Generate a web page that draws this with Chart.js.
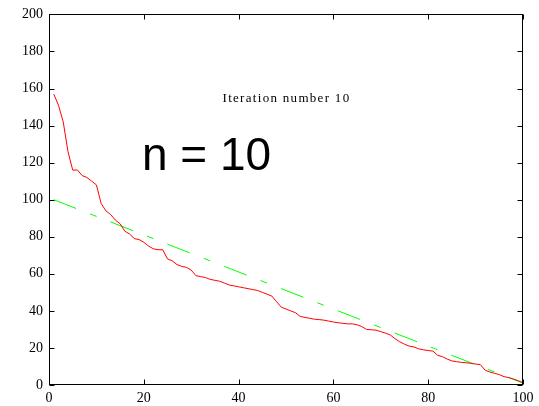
<!DOCTYPE html>
<html lang="en">
<head>
    <meta charset="UTF-8">
    <title>Iteration number 10</title>
    <script src="https://cdn.jsdelivr.net/npm/chart.js"></script>
    <style>
        body { margin: 0; background: #fff; }
    </style>
</head>
<body>
    <canvas id="myChart" width="539" height="406"></canvas>

    <script>
        // data
        const iterations = [
            1, 2, 3, 4, 5, 6, 7, 8, 9, 10,
            11, 12, 13, 14, 15, 16, 17, 18, 19, 20,
            21, 22, 23, 24, 25, 26, 27, 28, 29, 30,
            31, 32, 33, 34, 35, 36, 37, 38, 39, 40,
            41, 42, 43, 44, 45, 46, 47, 48, 49, 50,
            51, 52, 53, 54, 55, 56, 57, 58, 59, 60,
            61, 62, 63, 64, 65, 66, 67, 68, 69, 70,
            71, 72, 73, 74, 75, 76, 77, 78, 79, 80,
            81, 82, 83, 84, 85, 86, 87, 88, 89, 90,
            91, 92, 93, 94, 95, 96, 97, 98, 99, 100
        ];
        const redValues = [
            157, 151, 142, 126, 116, 116, 113, 112, 110, 108,
            98, 94, 92, 89, 87, 83, 81.5, 79, 78.5, 77,
            75, 73.5, 73, 73, 68, 67, 65, 64, 63.5, 62,
            59, 58.5, 58, 57, 56.5, 56, 55, 54, 53.5, 53,
            52.5, 52, 51.5, 51, 50, 49, 48, 45, 42, 41,
            40, 39, 37, 36.5, 36, 35.5, 35.3, 35, 34.5, 34,
            33.6, 33.3, 33, 33, 32.5, 31.5, 30, 29.8, 29.6, 28.8,
            28, 27, 25, 23.3, 22, 21, 20.5, 19.5, 19, 18.6,
            18.3, 16, 15.3, 14, 13, 12.6, 12.2, 12, 11.7, 11.3,
            11, 8, 7, 6.3, 5.6, 4.5, 4, 3.2, 2.3, 1.2
        ];
        const greenX = [1, 100];
        const greenValues = [100, 1];
        const xTicks = [0, 20, 40, 60, 80, 100];
        const yTicks = [0, 20, 40, 60, 80, 100, 120, 140, 160, 180, 200];
        const titleText = 'Iteration number 10';
        const bigText = 'n = 10';

        const frame = {
            id: 'frame',
            afterDraw(chart) {
                const ctx = chart.ctx;
                const a = chart.chartArea;
                const xs = chart.scales.x, ys = chart.scales.y;
                const L = Math.round(a.left) + 0.5, R = Math.round(a.right) - 0.5;
                const T = Math.round(a.top) + 0.5, B = Math.round(a.bottom) - 0.5;
                ctx.save();
                ctx.strokeStyle = '#000';
                ctx.lineWidth = 1;
                ctx.strokeRect(L, T, R - L, B - T);
                ctx.beginPath();
                xTicks.forEach(v => {
                    const p = Math.round(xs.getPixelForValue(v)) + 0.5;
                    ctx.moveTo(p, B); ctx.lineTo(p, B - 5);
                    ctx.moveTo(p, T); ctx.lineTo(p, T + 5);
                });
                yTicks.forEach(v => {
                    const p = Math.round(ys.getPixelForValue(v)) + 0.5;
                    ctx.moveTo(L, p); ctx.lineTo(L + 5, p);
                    ctx.moveTo(R, p); ctx.lineTo(R - 5, p);
                });
                ctx.stroke();

                // texts inside the plot
                ctx.fillStyle = '#000';
                ctx.textBaseline = 'alphabetic';
                ctx.font = '13px "Liberation Serif"';
                ctx.letterSpacing = '1.3px';
                ctx.textAlign = 'center';
                ctx.fillText(titleText, xs.getPixelForValue(50.1), ys.getPixelForValue(152.8));
                ctx.letterSpacing = '0px';
                ctx.font = '46px "Liberation Sans"';
                ctx.textAlign = 'left';
                ctx.fillText(bigText, xs.getPixelForValue(19.6), ys.getPixelForValue(116.2));
                ctx.restore();
            }
        };

        const config = {
            type: 'line',
            data: {
                datasets: [{
                    data: iterations.map((x, i) => ({ x: x, y: redValues[i] })),
                    borderColor: '#ff0000',
                    borderWidth: 1,
                    pointRadius: 0,
                    tension: 0,
                    fill: false
                }, {
                    data: greenX.map((x, i) => ({ x: x, y: greenValues[i] })),
                    borderColor: '#00ff00',
                    borderWidth: 1,
                    borderDash: [24, 15, 7, 15],
                    pointRadius: 0,
                    fill: false
                }]
            },
            options: {
                responsive: false,
                animation: false,
                layout: { padding: { top: 12, right: 16, left: 0, bottom: 0 } },
                plugins: {
                    legend: { display: false },
                    tooltip: { enabled: false }
                },
                scales: {
                    x: {
                        type: 'linear',
                        min: 0,
                        max: 100,
                        afterFit: s => { s.height = 21; },
                        afterBuildTicks: s => { s.ticks = xTicks.map(v => ({ value: v })); },
                        grid: { display: false, drawTicks: false, tickLength: 0 },
                        border: { display: false },
                        ticks: {
                            padding: 5,
                            color: '#000',
                            font: { family: 'Liberation Serif', size: 14 },
                            maxRotation: 0
                        }
                    },
                    y: {
                        min: 0,
                        max: 200,
                        afterFit: s => { s.width = 49; },
                        afterBuildTicks: s => { s.ticks = yTicks.map(v => ({ value: v })); },
                        grid: { display: false, drawTicks: false, tickLength: 0 },
                        border: { display: false },
                        ticks: {
                            padding: 6,
                            color: '#000',
                            font: { family: 'Liberation Serif', size: 14 }
                        }
                    }
                }
            },
            plugins: [frame]
        };

        var myChart = new Chart(document.getElementById('myChart'), config);
    </script>
</body>
</html>
